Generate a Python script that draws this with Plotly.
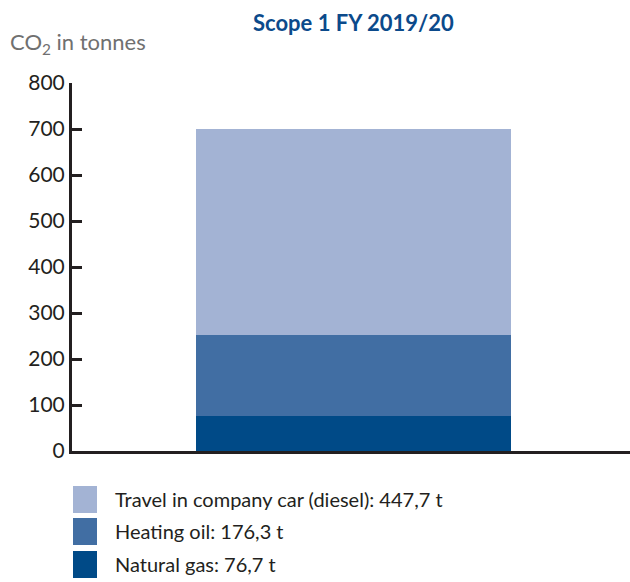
import plotly.graph_objects as go

# ==========================================
# DATA
# ==========================================
categories = ["FY 2019/20"]
sources = ["Natural gas", "Heating oil", "Travel in company car (diesel)"]
values = [76.7, 176.3, 447.7]
colors = ["#004a87", "#416ea3", "#a3b3d4"]
y_ticks = [0, 100, 200, 300, 400, 500, 600, 700, 800]

FONT = "Lato, Roboto, Arial"
AXIS_COLOR = "#231f20"

# plot area in pixels (used to place legend boxes in paper coords)
L, R_EDGE, TOP, BOTTOM = 72, 630, 83, 451
def px(x):
    return (x - L) / (R_EDGE - L)
def py(y):
    return (BOTTOM - y) / (BOTTOM - TOP)

fig = go.Figure()

# ==========================================
# STACKED BAR
# ==========================================
for name, val, col in zip(sources, values, colors):
    fig.add_trace(go.Bar(
        x=[0], y=[val], name=name,
        marker=dict(color=col, line=dict(width=0)),
        width=1.13, showlegend=False,
        hovertemplate=name + ": %{y:.1f} t<extra></extra>"
    ))

# ==========================================
# LEGEND (big swatches drawn by hand)
# ==========================================
rows = list(zip(sources, values, colors))[::-1]
row_top = [486, 518, 551]
for (name, val, col), top in zip(rows, row_top):
    fig.add_shape(type="rect", xref="paper", yref="paper",
                  x0=px(73), x1=px(97), y0=py(top), y1=py(top + 27),
                  fillcolor=col, line=dict(width=0))
    label = f"{name}: {val:.1f} t".replace(".", ",")
    fig.add_annotation(xref="paper", yref="paper", x=px(113), y=py(top + 13),
                       text=label, showarrow=False, xanchor="left", yanchor="middle",
                       font=dict(size=20, color=AXIS_COLOR, family=FONT))

# ==========================================
# TITLES
# ==========================================
fig.add_annotation(xref="paper", yref="paper", x=px(353), y=py(22),
                   text="<b>Scope 1 " + categories[0] + "</b>", showarrow=False,
                   xanchor="center", yanchor="middle",
                   font=dict(size=22, color="#0b4a8b", family=FONT))
fig.add_annotation(xref="paper", yref="paper", x=px(8), y=py(43),
                   text="CO<sub>2</sub> in tonnes", showarrow=False,
                   xanchor="left", yanchor="middle",
                   font=dict(size=22, color="#707070", family=FONT))

# ==========================================
# LAYOUT
# ==========================================
fig.update_layout(
    barmode="stack",
    width=630, height=582,
    margin=dict(l=L, r=630 - R_EDGE, t=TOP, b=582 - BOTTOM),
    plot_bgcolor="white", paper_bgcolor="white",
    bargap=0,
)
fig.update_xaxes(range=[-1.009, 0.991], showgrid=False, zeroline=False,
                 showticklabels=False, showline=True, linecolor=AXIS_COLOR,
                 linewidth=3, ticks="")
fig.update_yaxes(range=[0, 800], tickvals=y_ticks, showgrid=False, zeroline=False,
                 showline=True, linecolor=AXIS_COLOR, linewidth=3,
                 ticks="inside", ticklen=10, tickwidth=3, tickcolor=AXIS_COLOR,
                 tickfont=dict(size=21, color=AXIS_COLOR, family=FONT))

# drop the default body margin so the figure fills the window exactly
fig.write_html("out.html", config={"displayModeBar": False},
               post_script="document.body.style.margin='0';")
